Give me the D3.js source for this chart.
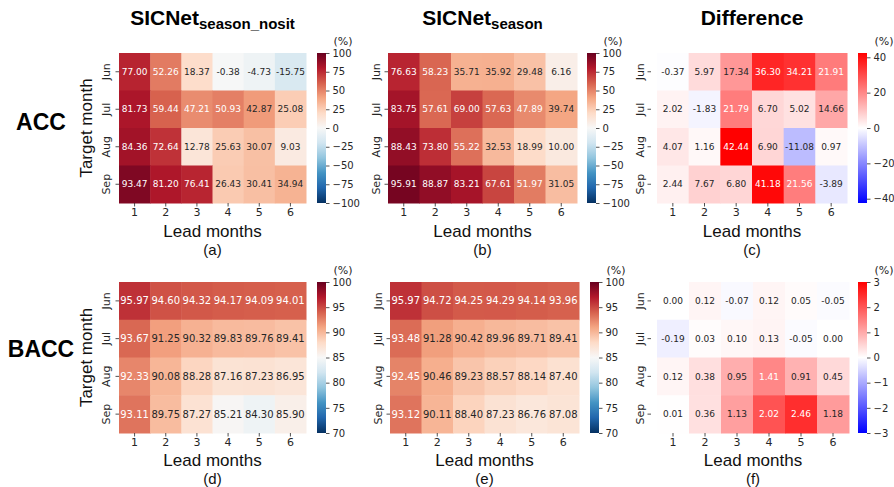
<!DOCTYPE html>
<html><head><meta charset="utf-8">
<script src="https://cdn.jsdelivr.net/npm/d3@7"></script>
<style>
html,body{margin:0;padding:0;background:#fff;}
svg{display:block;}
</style></head>
<body>
<svg id="chart" width="894" height="487"></svg>
<script>
// ---------- data ----------
const months = ["Jun", "Jul", "Aug", "Sep"];
const leads = [1, 2, 3, 4, 5, 6];

const accNosit = [
  [77.00, 52.26, 18.37, -0.38, -4.73, -15.75],
  [81.73, 59.44, 47.21, 50.93, 42.87, 25.08],
  [84.36, 72.64, 12.78, 25.63, 30.07, 9.03],
  [93.47, 81.20, 76.41, 26.43, 30.41, 34.94]
];
const accSeason = [
  [76.63, 58.23, 35.71, 35.92, 29.48, 6.16],
  [83.75, 57.61, 69.00, 57.63, 47.89, 39.74],
  [88.43, 73.80, 55.22, 32.53, 18.99, 10.00],
  [95.91, 88.87, 83.21, 67.61, 51.97, 31.05]
];
const accDiff = [
  [-0.37, 5.97, 17.34, 36.30, 34.21, 21.91],
  [2.02, -1.83, 21.79, 6.70, 5.02, 14.66],
  [4.07, 1.16, 42.44, 6.90, -11.08, 0.97],
  [2.44, 7.67, 6.80, 41.18, 21.56, -3.89]
];
const baccNosit = [
  [95.97, 94.60, 94.32, 94.17, 94.09, 94.01],
  [93.67, 91.25, 90.32, 89.83, 89.76, 89.41],
  [92.33, 90.08, 88.28, 87.16, 87.23, 86.95],
  [93.11, 89.75, 87.27, 85.21, 84.30, 85.90]
];
const baccSeason = [
  [95.97, 94.72, 94.25, 94.29, 94.14, 93.96],
  [93.48, 91.28, 90.42, 89.96, 89.71, 89.41],
  [92.45, 90.46, 89.23, 88.57, 88.14, 87.40],
  [93.12, 90.11, 88.40, 87.23, 86.76, 87.08]
];
const baccDiff = [
  [0.00, 0.12, -0.07, 0.12, 0.05, -0.05],
  [-0.19, 0.03, 0.10, 0.13, -0.05, 0.00],
  [0.12, 0.38, 0.95, 1.41, 0.91, 0.45],
  [0.01, 0.36, 1.13, 2.02, 2.46, 1.18]
];

const ticksAcc = [100, 75, 50, 25, 0, -25, -50, -75, -100];
const ticksBacc = [100, 95, 90, 85, 80, 75, 70];
const ticksAccDiff = [40, 20, 0, -20, -40];
const ticksBaccDiff = [3, 2, 1, 0, -1, -2, -3];

const rangeAcc = [-100, 100];
const rangeBacc = [70, 100];
const rangeAccDiff = [-42.44, 42.44];
const rangeBaccDiff = [-3, 3];

// ---------- colormaps ----------
const rdbu = ["#67001f","#b2182b","#d6604d","#f4a582","#fddbc7","#f7f7f7","#d1e5f0","#92c5de","#4393c3","#2166ac","#053061"];
function rdbuR(dom) {
  const cols = rdbu.slice().reverse();
  const d = cols.map((c, i) => dom[0] + (dom[1] - dom[0]) * i / (cols.length - 1));
  return d3.scaleLinear().domain(d).range(cols).interpolate(d3.interpolateRgb).clamp(true);
}
function bwr(dom) {
  return d3.scaleLinear().domain([dom[0], (dom[0] + dom[1]) / 2, dom[1]])
    .range(["#0000ff", "#ffffff", "#ff0000"]).interpolate(d3.interpolateRgb).clamp(true);
}
function lum(c) {
  const r = d3.rgb(c);
  const f = v => { v /= 255; return v <= 0.03928 ? v / 12.92 : Math.pow((v + 0.055) / 1.055, 2.4); };
  return 0.2126 * f(r.r) + 0.7152 * f(r.g) + 0.0722 * f(r.b);
}

// ---------- layout ----------
const svg = d3.select("#chart");
const defs = svg.append("defs");
const TXT = "#262626";
const tickFont = "DejaVu Sans, sans-serif";
const labFont = "Liberation Sans, Arial, sans-serif";

const panels = [
  {id:"a", data:accNosit, dom:rangeAcc, ticks:ticksAcc, cmap:rdbuR, x0:119, x1:306, y0:53, y1:203, cb:317, yshift:0, yoff:13, fs:9, ylabel:true, lm:34, pl:52},
  {id:"b", data:accSeason, dom:rangeAcc, ticks:ticksAcc, cmap:rdbuR, x0:388, x1:577, y0:53, y1:203, cb:587, yshift:0, yoff:12, fs:9, lm:34, pl:52},
  {id:"c", data:accDiff, dom:rangeAccDiff, ticks:ticksAccDiff, cmap:bwr, x0:657, x1:847, y0:53, y1:203, cb:858, yshift:-6, yoff:11, fs:9, lm:34, pl:52},
  {id:"d", data:baccNosit, dom:rangeBacc, ticks:ticksBacc, cmap:rdbuR, x0:119, x1:306, y0:282, y1:433, cb:317, yshift:0, yoff:13, fs:10, ylabel:true, lm:33, pl:51},
  {id:"e", data:baccSeason, dom:rangeBacc, ticks:ticksBacc, cmap:rdbuR, x0:390, x1:579, y0:282, y1:433, cb:590, yshift:0, yoff:12, fs:10, lm:33, pl:51},
  {id:"f", data:baccDiff, dom:rangeBaccDiff, ticks:ticksBaccDiff, cmap:bwr, x0:657, x1:849, y0:282, y1:433, cb:858, yshift:-6, yoff:11, fs:9, lm:33, pl:51}
];

panels.forEach(p => {
  const g = svg.append("g");
  const x = d3.scaleBand().domain(leads).range([p.x0, p.x1]);
  const y = d3.scaleBand().domain(months).range([p.y0, p.y1]);
  const color = p.cmap(p.dom);

  const cells = [];
  p.data.forEach((row, i) => row.forEach((v, j) => cells.push({m: months[i], l: leads[j], v})));

  g.selectAll("rect.cell").data(cells).join("rect")
    .attr("x", d => x(d.l)).attr("y", d => y(d.m))
    .attr("width", x.bandwidth() + 0.5).attr("height", y.bandwidth() + 0.5)
    .attr("fill", d => color(d.v));

  g.selectAll("text.ann").data(cells).join("text")
    .attr("x", d => x(d.l) + x.bandwidth() / 2)
    .attr("y", d => y(d.m) + y.bandwidth() / 2)
    .attr("dy", "0.35em")
    .attr("text-anchor", "middle")
    .attr("font-family", tickFont).attr("font-size", p.fs)
    .attr("fill", d => lum(color(d.v)) > 0.408 ? TXT : "#ffffff")
    .text(d => d.v.toFixed(2));

  // x axis
  const xa = g.append("g").attr("transform", `translate(0,${p.y1})`)
    .call(d3.axisBottom(x).tickSize(3.5).tickPadding(2));
  xa.select(".domain").remove();
  xa.selectAll("line").attr("stroke", TXT).attr("stroke-width", 0.8);
  xa.selectAll("text").attr("font-family", tickFont).attr("font-size", 11).attr("fill", TXT);

  // y axis (rotated labels)
  const ya = g.append("g").attr("transform", `translate(${p.x0 + p.yshift},0)`)
    .call(d3.axisLeft(y).tickSize(3.5));
  ya.select(".domain").remove();
  ya.selectAll("line").attr("stroke", TXT).attr("stroke-width", 0.8);
  ya.selectAll("text")
    .attr("font-family", tickFont).attr("font-size", 11).attr("fill", TXT)
    .attr("text-anchor", "middle").attr("x", 0).attr("dy", 0)
    .attr("transform", `translate(${-p.yoff},0) rotate(-90)`)
    .attr("y", 4);

  // axis labels
  g.append("text").attr("x", (p.x0 + p.x1) / 2).attr("y", p.y1 + p.lm)
    .attr("text-anchor", "middle").attr("font-family", labFont).attr("font-size", 17)
    .attr("fill", "#111").text("Lead months");
  g.append("text").attr("x", (p.x0 + p.x1) / 2).attr("y", p.y1 + p.pl)
    .attr("text-anchor", "middle").attr("font-family", labFont).attr("font-size", 15)
    .attr("fill", "#111").text(`(${p.id})`);
  if (p.ylabel) {
    g.append("text").attr("transform", `translate(92,${(p.y0 + p.y1) / 2}) rotate(-90)`)
      .attr("text-anchor", "middle").attr("font-family", labFont).attr("font-size", 17)
      .attr("fill", "#111").text("Target month");
  }

  // colorbar
  const cw = 9;
  const gid = "grad" + p.id;
  const grad = defs.append("linearGradient").attr("id", gid)
    .attr("x1", 0).attr("y1", 1).attr("x2", 0).attr("y2", 0);
  d3.range(0, 41).forEach(k => {
    const t = k / 40;
    grad.append("stop").attr("offset", t)
      .attr("stop-color", color(p.dom[0] + (p.dom[1] - p.dom[0]) * t));
  });
  g.append("rect").attr("x", p.cb).attr("y", p.y0).attr("width", cw).attr("height", p.y1 - p.y0)
    .attr("fill", `url(#${gid})`);
  const cs = d3.scaleLinear().domain(p.dom).range([p.y1, p.y0]);
  const ca = g.append("g").attr("transform", `translate(${p.cb + cw},0)`)
    .call(d3.axisRight(cs).tickValues(p.ticks).tickSize(3.5).tickPadding(3)
      .tickFormat(v => (v < 0 ? "\u2212" + Math.abs(v) : String(v))));
  ca.select(".domain").remove();
  ca.selectAll("line").attr("stroke", TXT).attr("stroke-width", 0.8);
  ca.selectAll("text").attr("font-family", tickFont).attr("font-size", 10).attr("fill", TXT);
  g.append("text").attr("x", p.cb + cw + 17).attr("y", p.y0 - 8)
    .attr("text-anchor", "middle").attr("font-family", tickFont).attr("font-size", 11)
    .attr("fill", TXT).text("(%)");
});

// titles
const titles = [
  {x: 212.5, main: "SICNet", sub: "season_nosit"},
  {x: 482.5, main: "SICNet", sub: "season"},
  {x: 752, main: "Difference", sub: null}
];
titles.forEach(t => {
  const tx = svg.append("text").attr("x", t.x).attr("y", 25).attr("text-anchor", "middle")
    .attr("font-family", labFont).attr("font-weight", "bold").attr("fill", "#000");
  tx.append("tspan").attr("font-size", 21).text(t.main);
  if (t.sub) tx.append("tspan").attr("font-size", 15).attr("dy", 4).text(t.sub);
  else tx.attr("font-size", 22);
});

// row labels
[{y: 130, t: "ACC"}, {y: 357, t: "BACC"}].forEach(r => {
  svg.append("text").attr("x", 41).attr("y", r.y).attr("text-anchor", "middle")
    .attr("font-family", labFont).attr("font-weight", "bold").attr("font-size", 23)
    .attr("fill", "#000").text(r.t);
});
</script>
</body></html>
